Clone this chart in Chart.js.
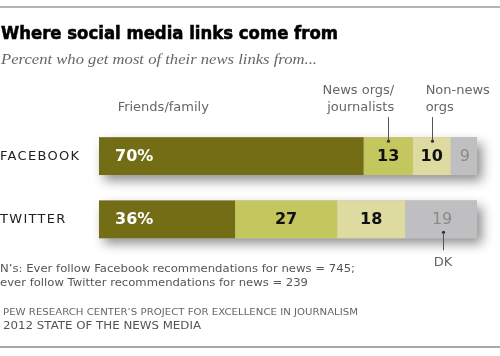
<!DOCTYPE html>
<html><head><meta charset="utf-8">
<script src="https://cdn.jsdelivr.net/npm/chart.js@4"></script>
<style>
html,body{margin:0;padding:0;background:#fff;}
body{width:500px;height:356px;position:relative;overflow:hidden;font-family:"DejaVu Sans",Verdana,sans-serif;}
#wrap{position:absolute;left:0;top:0;width:500px;height:356px;}
.t{position:absolute;left:0;white-space:nowrap;transform-origin:0 50%;}
.rule{position:absolute;left:0;width:500px;height:2px;background:#b4b4b4;}
#title{top:23px;left:1px;font-size:18px;line-height:20px;font-weight:bold;color:#000;-webkit-text-stroke:0.6px #000;}
#sub{top:50px;left:1px;font-family:"Liberation Serif","Times New Roman",serif;font-style:italic;font-size:15.5px;line-height:18px;color:#666;}
#n1{top:262px;left:0;font-size:11px;line-height:14px;color:#555;}
#n2{top:276px;left:0;font-size:11px;line-height:14px;color:#555;}
#s1{top:305px;left:3px;font-size:9.3px;line-height:13px;color:#666;}
#s2{top:319px;left:3px;font-size:11px;line-height:14px;color:#555;}
</style>
</head><body>
<div class="rule" style="top:6px"></div>
<div id="wrap"><canvas id="c"></canvas></div>
<div class="t" id="title" data-w="337">Where social media links come from</div>
<div class="t" id="sub" data-w="316">Percent who get most of their news links from...</div>
<div class="t" id="n1" data-w="355">N’s: Ever follow Facebook recommendations for news = 745;</div>
<div class="t" id="n2" data-w="308">ever follow Twitter recommendations for news = 239</div>
<div class="t" id="s1" data-w="355">PEW RESEARCH CENTER’S PROJECT FOR EXCELLENCE IN JOURNALISM</div>
<div class="t" id="s2" data-w="198">2012 STATE OF THE NEWS MEDIA</div>
<div class="rule" style="top:345.5px;background:#a8a8a8"></div>
<script>
// ---- data ----
const categories = ['FACEBOOK', 'TWITTER'];
const seriesNames = ['Friends/family', 'News orgs/journalists', 'Non-news orgs', 'DK'];
const friendsFamily = [70, 36];
const newsOrgs = [13, 27];
const nonNewsOrgs = [10, 18];
const dontKnow = [9, 19];
const valueRange = [0, 100];

// fit text blocks to measured widths
document.querySelectorAll('.t[data-w]').forEach(el => {
  const w = el.getBoundingClientRect().width;
  const target = +el.dataset.w;
  if (w > 0) el.style.transform = 'scaleX(' + (target / w) + ')';
});

const colors = ['#736e16', '#c4c75e', '#dddba0', '#bfbfc1'];

const shadowPlugin = {
  id: 'barShadow',
  beforeDraw(chart) { chart.ctx.letterSpacing = '1.3px'; },
  beforeDatasetsDraw(chart) {
    const ctx = chart.ctx, area = chart.chartArea;
    ctx.letterSpacing = '0px';
    const meta = chart.getDatasetMeta(0);
    ctx.save();
    ctx.shadowColor = 'rgba(0,0,0,0.45)';
    ctx.shadowBlur = 11;
    ctx.shadowOffsetX = 5;
    ctx.shadowOffsetY = 6;
    ctx.fillStyle = '#bbb';
    meta.data.forEach(el => {
      const h = el.height;
      ctx.fillRect(el.base, el.y - h / 2, area.right - el.base, h);
    });
    ctx.restore();
  }
};

const labelPlugin = {
  id: 'labels',
  afterDatasetsDraw(chart) {
    const ctx = chart.ctx, area = chart.chartArea, xs = chart.scales.x;
    ctx.save();
    ctx.letterSpacing = '0px';
    ctx.textBaseline = 'middle';
    chart.data.datasets.forEach((ds, di) => {
      const meta = chart.getDatasetMeta(di);
      meta.data.forEach((el, i) => {
        const left = Math.min(el.base, el.x);
        const right = Math.min(Math.max(el.base, el.x), area.right);
        const v = ds.data[i];
        if (di === 0) {
          ctx.font = 'bold 16px "DejaVu Sans", sans-serif';
          ctx.fillStyle = '#fff';
          ctx.textAlign = 'left';
          ctx.fillText(v + '%', left + 16, el.y + 0.5);
        } else if (di === 3) {
          ctx.font = '16px "DejaVu Sans", sans-serif';
          ctx.fillStyle = '#8a8a8a';
          ctx.textAlign = 'center';
          ctx.fillText(String(v), (left + right) / 2 + 1, el.y + 0.5);
        } else {
          ctx.font = 'bold 16px "DejaVu Sans", sans-serif';
          ctx.fillStyle = '#111';
          ctx.textAlign = 'center';
          ctx.fillText(String(v), (left + right) / 2, el.y + 0.5);
        }
      });
    });

    // series labels and callouts
    ctx.font = '13px "DejaVu Sans", sans-serif';
    ctx.fillStyle = '#666';
    ctx.strokeStyle = '#555';
    ctx.lineWidth = 1;
    const fb0 = chart.getDatasetMeta(0).data[0];
    const top = fb0.y - fb0.height / 2;
    ctx.textAlign = 'center';
    ctx.fillText('Friends/family', xs.getPixelForValue(17), top - 30);

    const drawCallout = (x, y1, y2, dotY) => {
      ctx.beginPath();
      ctx.moveTo(Math.round(x) + 0.5, y1);
      ctx.lineTo(Math.round(x) + 0.5, y2);
      ctx.stroke();
      ctx.beginPath();
      ctx.arc(Math.round(x) + 0.5, dotY, 1.6, 0, Math.PI * 2);
      ctx.fillStyle = '#333';
      ctx.fill();
      ctx.fillStyle = '#666';
    };
    const segCenter = (di, i) => {
      const el = chart.getDatasetMeta(di).data[i];
      const l = Math.min(el.base, el.x), r = Math.min(Math.max(el.base, el.x), area.right);
      return { x: (l + r) / 2, el };
    };
    // News orgs / journalists
    let c = segCenter(1, 0);
    drawCallout(c.x, top - 20, top + 4, top + 4);
    ctx.textAlign = 'right';
    ctx.fillText('News orgs/', c.x + 6, top - 47);
    ctx.fillText('journalists', c.x + 6, top - 30);
    // Non-news orgs
    c = segCenter(2, 0);
    drawCallout(c.x, top - 20, top + 4, top + 4);
    ctx.textAlign = 'left';
    ctx.fillText('Non-news', c.x - 6, top - 47);
    ctx.fillText('orgs', c.x - 6, top - 30);
    // DK
    c = segCenter(3, 1);
    const bottom = c.el.y + c.el.height / 2;
    drawCallout(c.x + 2, bottom - 6, bottom + 12, bottom - 6);
    ctx.textAlign = 'center';
    ctx.fillText('DK', c.x + 2, bottom + 24);
    ctx.restore();
  }
};

new Chart(document.getElementById('c'), {
  type: 'bar',
  data: {
    labels: categories,
    datasets: [
      { label: seriesNames[0], data: friendsFamily, backgroundColor: colors[0] },
      { label: seriesNames[1], data: newsOrgs, backgroundColor: colors[1] },
      { label: seriesNames[2], data: nonNewsOrgs, backgroundColor: colors[2] },
      { label: seriesNames[3], data: dontKnow, backgroundColor: colors[3] }
    ]
  },
  options: {
    indexAxis: 'y',
    responsive: true,
    maintainAspectRatio: false,
    animation: false,
    datasets: { bar: { categoryPercentage: 0.6, barPercentage: 1, borderWidth: 0 } },
    layout: { padding: { left: 0, right: 23, top: 124.5, bottom: 105 } },
    plugins: { legend: { display: false }, tooltip: { enabled: false }, title: { display: false } },
    scales: {
      x: { stacked: true, min: valueRange[0], max: valueRange[1], display: false },
      y: {
        stacked: true,
        grid: { display: false },
        border: { display: false },
        afterFit(scale) { scale.width = 99; },
        ticks: {
          crossAlign: 'far',
          padding: 0,
          color: '#222',
          font: { family: '"DejaVu Sans", sans-serif', size: 13 }
        }
      }
    }
  },
  plugins: [shadowPlugin, labelPlugin]
});
</script>
</body></html>
